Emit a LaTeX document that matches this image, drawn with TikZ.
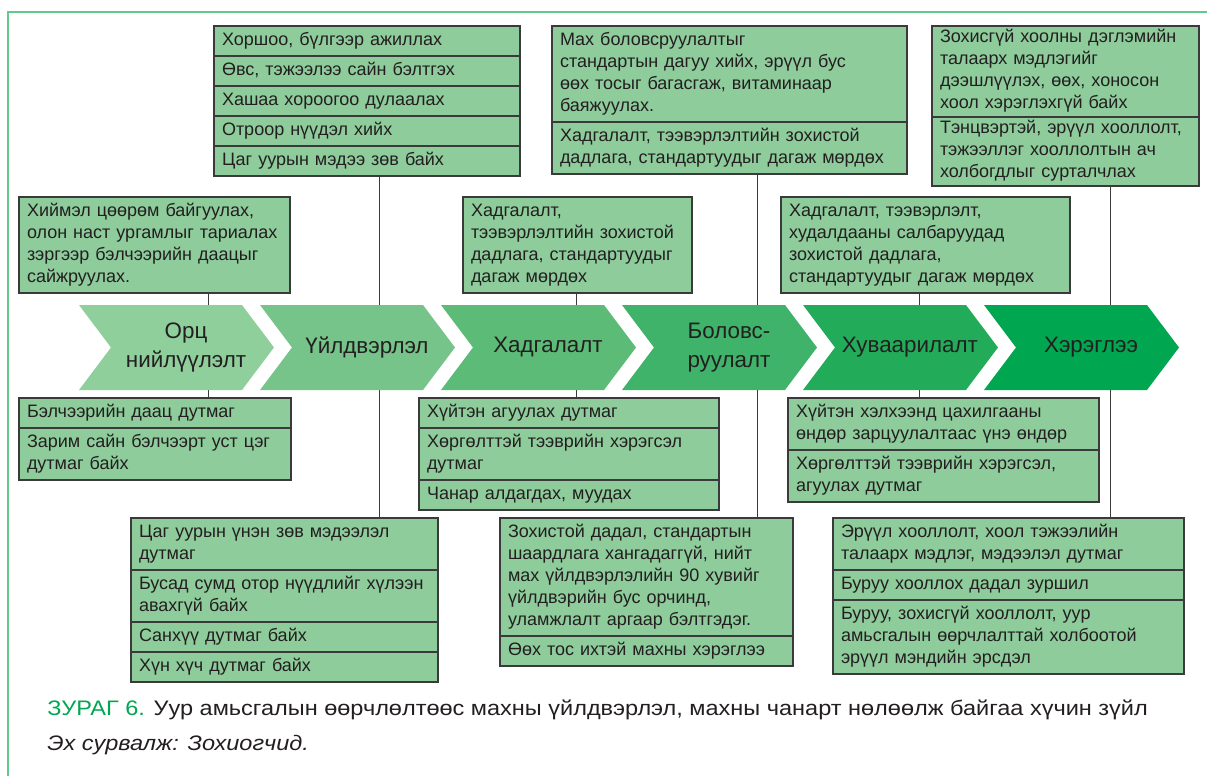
\documentclass[tikz,border=0pt]{standalone}
\usepackage{fontspec}
\setmainfont{Liberation Sans}
\newfontfamily\capfont[FakeStretch=1.12]{Liberation Sans}
\usetikzlibrary{positioning}

\definecolor{boxGreen}{HTML}{8ECC9B}
\definecolor{chevA}{HTML}{8FCF9C}
\definecolor{chevB}{HTML}{76C48A}
\definecolor{chevC}{HTML}{5CBB77}
\definecolor{chevD}{HTML}{3EB369}
\definecolor{chevE}{HTML}{22AC5A}
\definecolor{chevF}{HTML}{00A650}
\definecolor{textGray}{HTML}{231F20}
\definecolor{lineGray}{HTML}{3A3A3A}
\definecolor{frameGreen}{HTML}{62C98C}
\definecolor{capGreen}{HTML}{00A651}

\tikzset{
  cell/.style={draw=lineGray, line width=0.6pt, fill=boxGreen, text=textGray,
    outer sep=0pt, inner xsep=4pt, inner ysep=2pt, anchor=north west,
    text width=#1, align=left, font=\fontsize{9}{11}\selectfont,
    execute at begin node=\strut, execute at end node=\strut},
  link/.style={draw=lineGray, line width=0.5pt},
  stage/.style={text=textGray, align=center, font=\fontsize{11.2}{14.5}\selectfont},
}

% one chevron of the chain, #1 = left edge, #2 = colour
\newcommand{\chevron}[2]{\fill[#2] (#1,305) -- ++(163,0) -- ++(32,42.5)
  -- ++(-32,42.5) -- ++(-163,0) -- ++(32,-42.5) -- cycle;}

\begin{document}
\begin{tikzpicture}[x=0.5pt,y=-0.5pt]
\useasboundingbox (0,0) rectangle (1207,776);

\draw[frameGreen, line width=1pt] (8,776) -- (8,12) -- (1207,12);

% Орц нийлүүлэлт
\node[cell=127.5pt] (ortsT) at (19,197) {Хиймэл цөөрөм байгуулах,\\олон наст ургамлыг тариалах\\зэргээр бэлчээрийн даацыг\\сайжруулах.};
\node[cell=128pt] (ortsB1) at (19,398) {Бэлчээрийн даац дутмаг};
\node[cell=128pt, below=0pt of ortsB1] (ortsB2) {Зарим сайн бэлчээрт уст цэг\\дутмаг байх};

% Үйлдвэрлэл
\node[cell=145pt] (uildT1) at (214,26) {Хоршоо, бүлгээр ажиллах};
\node[cell=145pt, below=0pt of uildT1] (uildT2) {Өвс, тэжээлээ сайн бэлтгэх};
\node[cell=145pt, below=0pt of uildT2] (uildT3) {Хашаа хороогоо дулаалах};
\node[cell=145pt, below=0pt of uildT3] (uildT4) {Отроор нүүдэл хийх};
\node[cell=145pt, below=0pt of uildT4] (uildT5) {Цаг уурын мэдээ зөв байх};
\node[cell=145.5pt] (uildB1) at (131,518) {Цаг уурын үнэн зөв мэдээлэл\\дутмаг};
\node[cell=145.5pt, below=0pt of uildB1] (uildB2) {Бусад сумд отор нүүдлийг хүлээн\\авахгүй байх};
\node[cell=145.5pt, below=0pt of uildB2] (uildB3) {Санхүү дутмаг байх};
\node[cell=145.5pt, below=0pt of uildB3] (uildB4) {Хүн хүч дутмаг байх};

% Хадгалалт
\node[cell=106.5pt] (hadT) at (463,197) {Хадгалалт,\\тээвэрлэлтийн зохистой\\дадлага, стандартуудыг\\дагаж мөрдөх};
\node[cell=142pt] (hadB1) at (419,398) {Хүйтэн агуулах дутмаг};
\node[cell=142pt, below=0pt of hadB1] (hadB2) {Хөргөлттэй тээврийн хэрэгсэл\\дутмаг};
\node[cell=142pt, below=0pt of hadB2] (hadB3) {Чанар алдагдах, муудах};

% Боловсруулалт
\node[cell=169.5pt] (bolT1) at (552,26) {Мах боловсруулалтыг\\стандартын дагуу хийх, эрүүл бус\\өөх тосыг багасгаж, витаминаар\\баяжуулах.};
\node[cell=169.5pt, below=0pt of bolT1] (bolT2) {Хадгалалт, тээвэрлэлтийн зохистой\\дадлага, стандартуудыг дагаж мөрдөх};
\node[cell=138.5pt] (bolB1) at (500,518) {Зохистой дадал, стандартын\\шаардлага хангадаггүй, нийт\\мах үйлдвэрлэлийн 90 хувийг\\үйлдвэрийн бус орчинд,\\уламжлалт аргаар бэлтгэдэг.};
\node[cell=138.5pt, below=0pt of bolB1] (bolB2) {Өөх тос ихтэй махны хэрэглээ};

% Хуваарилалт
\node[cell=136.5pt] (huvT) at (781,197) {Хадгалалт, тээвэрлэлт,\\худалдааны салбаруудад\\зохистой дадлага,\\стандартуудыг дагаж мөрдөх};
\node[cell=147.5pt] (huvB1) at (788,398) {Хүйтэн хэлхээнд цахилгааны\\өндөр зарцуулалтаас үнэ өндөр};
\node[cell=147.5pt, below=0pt of huvB1] (huvB2) {Хөргөлттэй тээврийн хэрэгсэл,\\агуулах дутмаг};

% Хэрэглээ
\node[cell=125.5pt, inner ysep=0.75pt] (herT1) at (932,26) {Зохисгүй хоолны дэглэмийн\\талаарх мэдлэгийг\\дээшлүүлэх, өөх, хоносон\\хоол хэрэглэхгүй байх};
\node[cell=125.5pt, inner ysep=0.75pt, below=0pt of herT1] (herT2) {Тэнцвэртэй, эрүүл хооллолт,\\тэжээллэг хооллолтын ач\\холбогдлыг сурталчлах};
\node[cell=167.5pt] (herB1) at (833,518) {Эрүүл хооллолт, хоол тэжээлийн\\талаарх мэдлэг, мэдээлэл дутмаг};
\node[cell=167.5pt, below=0pt of herB1] (herB2) {Буруу хооллох дадал зуршил};
\node[cell=167.5pt, below=0pt of herB2] (herB3) {Буруу, зохисгүй хооллолт, уур\\амьсгалын өөрчлалттай холбоотой\\эрүүл мэндийн эрсдэл};

% connectors run behind the chevrons
\coordinate (ortsX) at (208,0);
\coordinate (uildX) at (379,0);
\coordinate (hadX) at (576,0);
\coordinate (bolX) at (757,0);
\coordinate (huvX) at (919,0);
\coordinate (herX) at (1110,0);
\draw[link] (ortsT.south -| ortsX) -- (ortsB1.north -| ortsX);
\draw[link] (uildT5.south -| uildX) -- (uildB1.north -| uildX);
\draw[link] (hadT.south -| hadX) -- (hadB1.north -| hadX);
\draw[link] (bolT2.south -| bolX) -- (bolB1.north -| bolX);
\draw[link] (huvT.south -| huvX) -- (huvB1.north -| huvX);
\draw[link] (herT2.south -| herX) -- (herB1.north -| herX);

\chevron{79}{chevA}
\chevron{260}{chevB}
\chevron{441}{chevC}
\chevron{622}{chevD}
\chevron{803}{chevE}
\chevron{984}{chevF}

\node[stage] (stOrts) at (186,347.5) {Орц\\нийлүүлэлт};
\node[stage] (stUild) at (367,347.5) {Үйлдвэрлэл};
\node[stage] (stHad) at (548,347.5) {Хадгалалт};
\node[stage] (stBol) at (729,347.5) {Боловс-\\руулалт};
\node[stage] (stHuv) at (910,347.5) {Хуваарилалт};
\node[stage] (stHer) at (1091,347.5) {Хэрэглээ};

% caption
\node[anchor=west, inner sep=0pt, text=textGray, font=\capfont\fontsize{10.5}{12}\selectfont] (caption) at (47,710)
  {\textcolor{capGreen}{ЗУРАГ 6.} Уур амьсгалын өөрчлөлтөөс махны үйлдвэрлэл, махны чанарт нөлөөлж байгаа хүчин зүйл};
\node[anchor=west, inner sep=0pt, text=textGray, font=\capfont\fontsize{10.5}{12}\selectfont\itshape] (source) at (47,745)
  {Эх сурвалж: Зохиогчид.};

\end{tikzpicture}
\end{document}
